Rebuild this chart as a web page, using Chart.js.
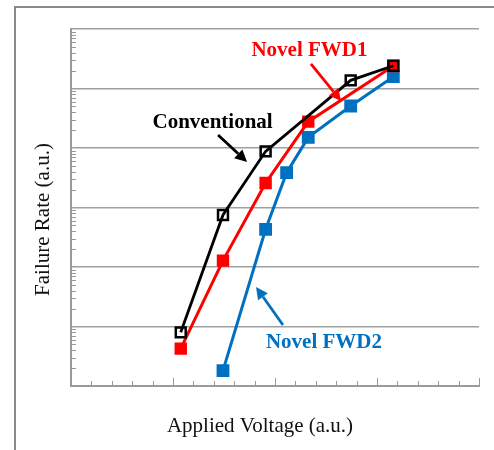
<!DOCTYPE html>
<html>
<head>
<meta charset="utf-8">
<script src="https://cdn.jsdelivr.net/npm/chart.js@4"></script>
<style>
  html, body { margin: 0; padding: 0; background: #ffffff; }
  canvas { display: block; }
</style>
</head>
<body>
<canvas id="c" width="494" height="450"></canvas>
<script>
// ---- data (x in arbitrary voltage units, y failure rate on log scale) ----
const convX = [5.38, 7.45, 9.54, 13.71, 15.8];
const convY = [7.98, 748, 8790, 137000, 241000];
const fwd1X = [5.38, 7.45, 9.54, 11.63, 15.8];
const fwd1Y = [4.24, 128, 2580, 27700, 239000];
const fwd2X = [7.45, 9.54, 10.57, 11.63, 13.71, 15.8];
const fwd2Y = [1.81, 430, 3850, 15100, 50800, 158000];

const seriesNames = ['Conventional', 'Novel FWD1', 'Novel FWD2'];
const xTitle = 'Applied Voltage (a.u.)';
const yTitle = 'Failure Rate (a.u.)';
const yDecades = [1, 10, 100, 1000, 10000, 100000, 1000000];
const xMinorTicks = [1,2,3,4,5,6,7,8,9,10,11,12,13,14,15,16,17,18,19,20];
const xMajorTicks = [5, 10, 15, 20];

// annotation labels: [text, x, y (data coords of baseline centre)]
const labelText = ['Novel FWD1', 'Conventional', 'Novel FWD2'];
const labelColor = ['#ff0000', '#000000', '#0070c0'];
const labelX = [11.69, 6.94, 12.40];
const labelY = [Math.pow(10, 5.538), Math.pow(10, 4.331), Math.pow(10, 0.644)];
// arrows: from (x0,y0) to (x1,y1) in data coords
const arrowX0 = [11.76, 7.21, 10.39];
const arrowY0 = [Math.pow(10, 5.412), Math.pow(10, 4.218), Math.pow(10, 1.025)];
const arrowX1 = [13.24, 8.63, 9.07];
const arrowY1 = [Math.pow(10, 4.79), Math.pow(10, 3.765), Math.pow(10, 1.664)];

const colors = ['#000000', '#ff0000', '#0070c0'];
const SERIF = '"Liberation Serif", "Times New Roman", serif';

function pts(xs, ys) { return xs.map((x, i) => ({ x: x, y: ys[i] })); }

const framePlugin = {
  id: 'frame',
  beforeDraw(chart) {
    const ctx = chart.ctx;
    ctx.save();
    ctx.fillStyle = '#ffffff';
    ctx.fillRect(0, 0, chart.width, chart.height);
    ctx.fillStyle = '#8a8a8a';
    ctx.fillRect(14, 6, chart.width - 14, 2);
    ctx.fillRect(14, 6, 2, chart.height - 6);
    ctx.restore();
  },
  beforeDatasetsDraw(chart) {
    const ctx = chart.ctx;
    const xs = chart.scales.x, ys = chart.scales.y;
    const area = chart.chartArea;
    ctx.save();
    ctx.strokeStyle = '#999999';
    ctx.lineWidth = 1;
    ctx.beginPath();
    // y minor ticks (inside)
    for (let d = 0; d < yDecades.length - 1; d++) {
      for (let k = 2; k <= 9; k++) {
        const py = Math.round(ys.getPixelForValue(k * yDecades[d])) + 0.5;
        ctx.moveTo(area.left, py);
        ctx.lineTo(area.left + 5, py);
      }
    }
    // x ticks (inside, pointing up)
    xMinorTicks.forEach(v => {
      const px = Math.round(xs.getPixelForValue(v)) + 0.5;
      const len = xMajorTicks.includes(v) ? 8 : 5;
      ctx.moveTo(px, area.bottom);
      ctx.lineTo(px, area.bottom - len);
    });
    ctx.stroke();

    // axis titles
    ctx.fillStyle = '#111111';
    ctx.font = '21px ' + SERIF;
    ctx.textAlign = 'center';
    ctx.textBaseline = 'alphabetic';
    ctx.fillText(xTitle, 260, 432);
    ctx.translate(49, 219.5);
    ctx.rotate(-Math.PI / 2);
    ctx.fillText(yTitle, 0, 0);
    ctx.restore();
  },
  afterDatasetsDraw(chart) {
    const ctx = chart.ctx;
    const xs = chart.scales.x, ys = chart.scales.y;
    ctx.save();
    for (let i = 0; i < labelText.length; i++) {
      const c = labelColor[i];
      // label
      ctx.fillStyle = c;
      ctx.font = 'bold 21px ' + SERIF;
      ctx.textAlign = 'center';
      ctx.textBaseline = 'alphabetic';
      ctx.fillText(labelText[i], xs.getPixelForValue(labelX[i]), ys.getPixelForValue(labelY[i]));
      // arrow
      const x0 = xs.getPixelForValue(arrowX0[i]), y0 = ys.getPixelForValue(arrowY0[i]);
      const x1 = xs.getPixelForValue(arrowX1[i]), y1 = ys.getPixelForValue(arrowY1[i]);
      const ang = Math.atan2(y1 - y0, x1 - x0);
      const headL = 12, headW = 6;
      const bx = x1 - headL * Math.cos(ang), by = y1 - headL * Math.sin(ang);
      ctx.strokeStyle = c;
      ctx.lineWidth = 2.8;
      ctx.beginPath();
      ctx.moveTo(x0, y0);
      ctx.lineTo(bx, by);
      ctx.stroke();
      ctx.beginPath();
      ctx.moveTo(x1, y1);
      ctx.lineTo(bx + headW * Math.sin(ang), by - headW * Math.cos(ang));
      ctx.lineTo(bx - headW * Math.sin(ang), by + headW * Math.cos(ang));
      ctx.closePath();
      ctx.fill();
    }
    ctx.restore();
  }
};

new Chart(document.getElementById('c'), {
  type: 'line',
  data: {
    datasets: [
      {
        label: seriesNames[0], data: pts(convX, convY), order: 0,
        borderColor: colors[0], borderWidth: 2.8, tension: 0,
        pointStyle: 'rect', pointRadius: 7, pointBorderWidth: 2.5,
        pointBackgroundColor: 'rgba(0,0,0,0)', pointBorderColor: colors[0]
      },
      {
        label: seriesNames[1], data: pts(fwd1X, fwd1Y), order: 1,
        borderColor: colors[1], borderWidth: 3, tension: 0,
        pointStyle: 'rect', pointRadius: 7, pointBorderWidth: 2.5,
        pointBackgroundColor: colors[1], pointBorderColor: colors[1]
      },
      {
        label: seriesNames[2], data: pts(fwd2X, fwd2Y), order: 2,
        borderColor: colors[2], borderWidth: 3, tension: 0,
        pointStyle: 'rect', pointRadius: 7.3, pointBorderWidth: 2.5,
        pointBackgroundColor: colors[2], pointBorderColor: colors[2]
      }
    ]
  },
  options: {
    responsive: false,
    animation: false,
    events: [],
    layout: { padding: { left: 71, right: 15, top: 29, bottom: 64 } },
    plugins: { legend: { display: false }, tooltip: { enabled: false }, title: { display: false } },
    scales: {
      x: {
        type: 'linear', min: 0, max: 20,
        ticks: { display: false },
        grid: { display: false, drawTicks: false },
        border: { display: true, color: '#999999', width: 2 }
      },
      y: {
        type: 'logarithmic', min: 1, max: 1000000,
        afterBuildTicks: (scale) => { scale.ticks = yDecades.map(v => ({ value: v })); },
        ticks: { display: false },
        grid: { color: '#a0a0a0', lineWidth: 1.5, drawTicks: false },
        border: { display: true, color: '#999999', width: 2 }
      }
    }
  },
  plugins: [framePlugin]
});
</script>
</body>
</html>
